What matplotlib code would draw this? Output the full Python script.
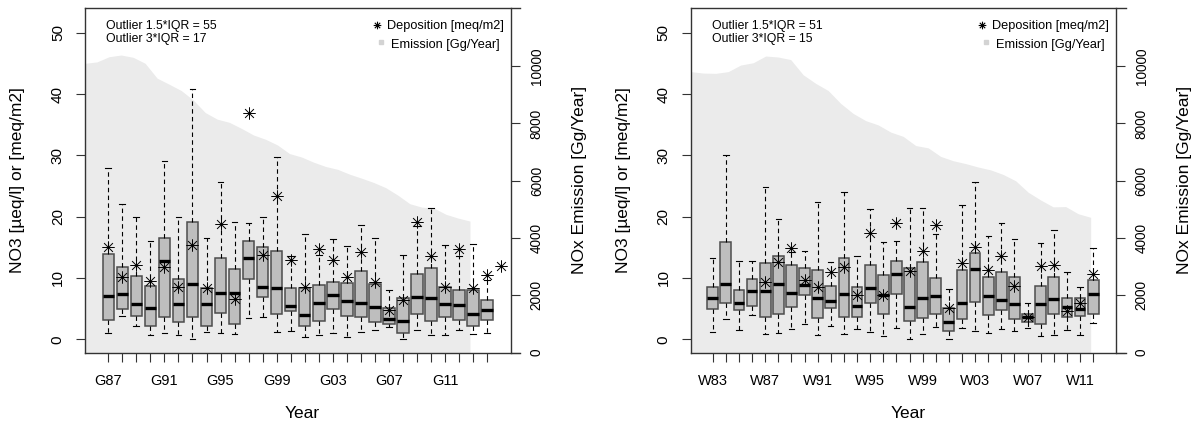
import matplotlib
matplotlib.use('Agg')
import matplotlib.pyplot as plt
from matplotlib.path import Path
from matplotlib.lines import Line2D
import numpy as np

plt.rcParams['font.family'] = ['Liberation Sans', 'DejaVu Sans']

# ---------------- data ----------------
years_G = list(range(1987, 2015))
labels_G = ['G%02d' % (y % 100) for y in years_G]
whishi_G = [27.9, 22.1, 20.0, 16.0, 29.1, 20.0, 40.8, 16.6, 25.6, 19.2, 18.9, 19.9, 29.7, 13.6,
            17.1, 13.75, 16.3, 15.2, 18.6, 16.6, 8.0, 13.75, 18.5, 21.4, 15.4, 13.6, 15.5, 9.6]
q3_G = [13.9, 11.85, 10.4, 8.7, 16.6, 9.8, 19.1, 8.3, 13.2, 11.4, 16.1, 15.1, 14.45, 8.4,
        8.3, 8.9, 9.4, 9.25, 11.2, 9.1, 5.05, 6.7, 10.6, 11.6, 8.5, 8.0, 8.0, 6.35]
med_G = [7.06, 7.4, 5.7, 5.05, 12.8, 5.7, 9.0, 5.7, 7.6, 7.6, 13.2, 8.6, 8.3, 5.5,
         3.9, 6.0, 7.2, 6.25, 5.9, 5.3, 3.25, 3.0, 6.95, 6.75, 5.75, 5.6, 4.2, 4.7]
q1_G = [3.15, 4.9, 3.85, 2.17, 3.7, 2.9, 3.7, 2.17, 4.35, 2.5, 9.8, 6.85, 4.1, 4.55,
        2.2, 3.0, 4.9, 3.85, 3.7, 2.9, 2.5, 0.97, 4.1, 3.0, 3.7, 3.15, 2.17, 3.15]
whislo_G = [1.0, 3.8, 2.2, 0.7, 1.0, 0.7, 0.0, 1.25, 1.1, 0.86, 3.4, 3.6, 1.25, 1.4,
            0.4, 0.7, 1.1, 0.4, 1.25, 1.5, 2.05, 0.05, 1.5, 0.7, 0.7, 1.5, 0.86, 1.1]
dep_years_G = list(range(1987, 2016))
dep_G = [15.1, 10.1, 12.1, 9.5, 11.75, 8.5, 15.4, 8.3, 18.8, 6.6, 37.0, 13.75, 23.4, 12.9,
         8.5, 14.7, 13.0, 10.2, 14.25, 9.3, 4.7, 6.4, 19.2, 13.6, 8.6, 14.8, 8.4, 10.5, 12.0]
emis_years_G = list(range(1980, 2013))
emis_G = [10100, 10150, 10330, 10390, 10310, 10100, 9580, 9370, 9150, 8820, 8380, 8150, 8040,
          7830, 7600, 7450, 7250, 6950, 6830, 6650, 6500, 6400, 6230, 6090, 5940, 5760, 5500,
          5200, 5080, 5050, 4830, 4700, 4595]
outlier_text_G = ['Outlier 1.5*IQR = 55', 'Outlier 3*IQR = 17']

years_W = list(range(1983, 2013))
labels_W = ['W%02d' % (y % 100) for y in years_W]
whishi_W = [13.2, 30.1, 12.8, 12.8, 24.9, 19.7, 14.3, 14.4, 22.4, 12.65, 24.0, 13.6, 21.25, 15.9,
            16.1, 21.4, 21.4, 17.1, 8.2, 21.9, 25.7, 16.9, 18.9, 16.3, 5.9, 15.75, 17.8, 10.9, 8.6, 14.85]
q3_W = [8.6, 15.9, 8.05, 9.9, 12.4, 13.6, 12.2, 11.6, 11.3, 8.75, 13.2, 8.6, 12.2, 10.55,
        12.8, 11.6, 12.55, 10.05, 5.05, 11.3, 14.1, 10.2, 11.0, 10.2, 4.1, 8.75, 10.1, 6.7, 6.7, 9.7]
med_W = [6.8, 9.1, 6.0, 7.9, 7.9, 9.0, 7.6, 8.8, 6.8, 6.25, 7.45, 5.4, 8.3, 7.3,
         10.6, 5.2, 6.8, 7.1, 2.8, 5.9, 11.45, 7.1, 6.4, 5.75, 3.6, 5.75, 6.6, 5.2, 4.9, 7.4]
q1_W = [4.9, 5.9, 4.8, 5.5, 3.7, 4.2, 5.2, 7.2, 3.4, 5.15, 3.7, 3.6, 6.0, 4.2,
        7.4, 3.0, 3.4, 4.2, 1.35, 3.3, 6.15, 3.95, 4.7, 3.3, 2.8, 2.5, 4.1, 3.7, 3.85, 4.1]
whislo_W = [1.25, 3.25, 1.5, 4.0, 0.86, 0.97, 1.7, 2.5, 0.7, 2.2, 0.86, 1.7, 1.2, 0.54,
            1.9, 0.0, 0.86, 2.05, 0.05, 1.9, 1.35, 1.1, 1.6, 1.35, 1.8, 0.54, 0.7, 1.5, 0.7, 2.7]
dep_years_W = list(range(1987, 2013))
dep_W = [9.4, 12.65, 14.85, 9.7, 8.6, 10.9, 11.75, 7.2, 17.4, 7.3, 18.9, 11.2, 14.45,
         18.65, 5.05, 12.5, 15.0, 11.3, 13.6, 8.7, 3.6, 12.0, 12.2, 4.6, 6.0, 10.65]
emis_years_W = list(range(1980, 2013))
emis_W = [9810, 9760, 9750, 9810, 10040, 10120, 10355, 10320, 10230, 9700, 9400, 9150, 8700,
          8350, 8100, 7950, 7700, 7550, 7230, 7150, 6850, 6700, 6600, 6480, 6380, 6220, 6000,
          5600, 5330, 5090, 5100, 4850, 4725]
outlier_text_W = ['Outlier 1.5*IQR = 51', 'Outlier 3*IQR = 15']

# ---------------- styling ----------------
W, H = 1201, 434
fig = plt.figure(figsize=(W / 100, H / 100), dpi=100)
fig.patch.set_facecolor('white')

EMIS_COLOR = '#EBEBEB'
BOX_FILL = '#BEBEBE'
BOX_EDGE = '#4D4D4D'
LINE_COL = '#333333'

verts, codes = [], []
for ang in [0, 45, 90, 135]:
    a = np.deg2rad(ang)
    verts += [(-np.cos(a), -np.sin(a)), (np.cos(a), np.sin(a))]
    codes += [Path.MOVETO, Path.LINETO]
STAR = Path(verts, codes)


def P(x, y):
    return x / W, 1 - y / H


def panel(x0, spine_x, years, labels, q1, med, q3, wlo, whi, dyears, dep,
          eyears, emis, xlim_main, xlim_em, outl):
    top, bot = 8.0, 352.7
    x1 = x0 + 435.0
    rect = [x0 / W, 1 - bot / H, (x1 - x0) / W, (bot - top) / H]
    eax = fig.add_axes(rect)
    ax = fig.add_axes(rect)
    ax.patch.set_visible(False)

    # emission polygon
    eax.fill_between(eyears, 0, emis, color=EMIS_COLOR, lw=0)
    eax.set_xlim(*xlim_em)
    eax.set_ylim(0, 12031)
    for s in ['top', 'left', 'bottom']:
        eax.spines[s].set_visible(False)
    eax.spines['right'].set_position(('axes', (spine_x - x0) / 435.0))
    eax.spines['right'].set_color(LINE_COL)
    eax.spines['right'].set_linewidth(1.0)
    eax.set_xticks([])
    eax.yaxis.tick_right()
    eax.set_yticks([0, 2000, 4000, 6000, 8000, 10000])
    eax.set_yticklabels(['0', '2000', '4000', '6000', '8000', '10000'],
                        rotation=90, va='center', ha='left', fontsize=9.8)
    eax.tick_params(axis='y', length=6.5, width=0.8, color=LINE_COL, pad=7.0)
    eax.yaxis.set_label_position('right')
    eax.set_ylabel('NOx Emission [Gg/Year]', fontsize=12.5, rotation=90)
    eax.yaxis.set_label_coords((spine_x + 61 - x0) / 435.0, 0.5)

    # boxplots
    stats = [dict(med=m, q1=a, q3=b, whislo=lo, whishi=hi, fliers=[])
             for a, m, b, lo, hi in zip(q1, med, q3, wlo, whi)]
    ax.bxp(stats, positions=years, widths=0.82, patch_artist=True, showfliers=False,
           boxprops=dict(facecolor=BOX_FILL, edgecolor=BOX_EDGE, linewidth=1.1),
           medianprops=dict(color='black', linewidth=2.4, solid_capstyle='butt'),
           whiskerprops=dict(color='black', linewidth=0.8, linestyle=(0, (4, 3))),
           capprops=dict(color='black', linewidth=0.8),
           capwidths=0.41, manage_ticks=False)
    ax.plot(dyears, dep, linestyle='none', marker=STAR, markersize=9.0,
            markeredgecolor='black', markeredgewidth=0.7, zorder=5, clip_on=False)

    ax.set_xlim(*xlim_main)
    ax.set_ylim(-2.19, 54.05)
    ax.spines['right'].set_visible(False)
    for s in ['top', 'left', 'bottom']:
        ax.spines[s].set_color(LINE_COL)
        ax.spines[s].set_linewidth(1.0)
    ax.set_xticks(years)
    ax.set_xticklabels([lab if i % 4 == 0 else '' for i, lab in enumerate(labels)],
                       fontsize=10.5)
    ax.set_yticks([0, 10, 20, 30, 40, 50])
    ax.set_yticklabels(['0', '10', '20', '30', '40', '50'], rotation=90, va='center',
                       fontsize=11)
    ax.tick_params(axis='both', length=6.5, width=0.8, color=LINE_COL)
    ax.tick_params(axis='y', pad=8.0)
    ax.tick_params(axis='x', pad=8.5)
    ax.set_ylabel('NO3 [µeq/l] or [meq/m2]', fontsize=12.5)
    ax.yaxis.set_label_coords(-59.6 / 435.0, 0.5)
    ax.set_xlabel('Year', fontsize=12.5)
    ax.xaxis.set_label_coords(0.5, (bot - 406) / (bot - top))

    # annotations
    fig.text(*P(x0 + 21, 29.3), outl[0], fontsize=8.8, ha='left', va='baseline')
    fig.text(*P(x0 + 21, 41.7), outl[1], fontsize=8.8, ha='left', va='baseline')

    # legend (manual)
    fig.add_artist(Line2D([P(spine_x - 134, 24.5)[0]], [P(spine_x - 134, 24.5)[1]],
                          transform=fig.transFigure, marker=STAR, markersize=5.5,
                          markeredgecolor='black', markeredgewidth=0.8, linestyle='none'))
    fig.add_artist(Line2D([P(spine_x - 130, 42.0)[0]], [P(spine_x - 130, 42.0)[1]],
                          transform=fig.transFigure, marker='s', markersize=3.2,
                          markerfacecolor='#D3D3D3', markeredgecolor='#D3D3D3',
                          linestyle='none'))
    fig.text(*P(spine_x - 124, 29.3), 'Deposition [meq/m2]', fontsize=9.2,
             ha='left', va='baseline')
    fig.text(*P(spine_x - 120, 47.7), 'Emission [Gg/Year]', fontsize=9.2,
             ha='left', va='baseline')


panel(85.0, 511.0, years_G, labels_G, q1_G, med_G, q3_G, whislo_G, whishi_G,
      dep_years_G, dep_G, emis_years_G, emis_G,
      (1985.34, 2016.34), (1980, 2016.16), outlier_text_G)
panel(690.7, 1116.0, years_W, labels_W, q1_W, med_W, q3_W, whislo_W, whishi_W,
      dep_years_W, dep_W, emis_years_W, emis_W,
      (1981.32, 2014.48), (1980, 2014.8), outlier_text_W)

fig.savefig('out.png', dpi=100, facecolor='white')
